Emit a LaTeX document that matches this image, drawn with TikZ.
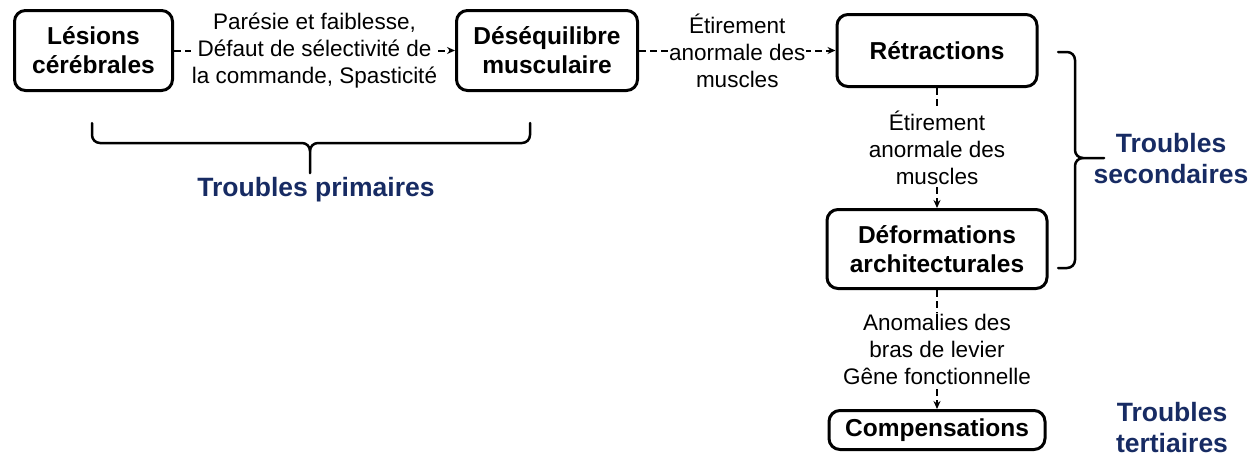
\documentclass[tikz,border=0pt]{standalone}
\usepackage{fontspec}
\setmainfont{Liberation Sans}
\usetikzlibrary{arrows.meta}
\definecolor{navy}{RGB}{23,43,99}
\begin{document}
\begin{tikzpicture}[x=1pt,y=-1pt,
  box/.style={draw=black, line width=3pt, rounded corners=11pt, align=center,
    font=\bfseries\fontsize{24.5}{29}\selectfont, inner sep=0pt},
  link/.style={line width=2pt, dash pattern=on 7pt off 4pt,
    -{Stealth[length=8pt,width=7pt]}},
  lbl/.style={fill=white, inner sep=1pt, align=center,
    font=\fontsize{22.5}{27}\selectfont},
  group/.style={text=navy, align=center, font=\bfseries\fontsize{26.5}{31}\selectfont},
  brace/.style={line width=2.5pt, line cap=round}]
\useasboundingbox (0,0) rectangle (1260,456);

% boxes
\node[box, minimum width=158pt, minimum height=80pt] (lesions) at (93.5,50.5) {Lésions\\cérébrales};
\node[box, minimum width=181pt, minimum height=80pt] (deseq) at (547,50.5) {Déséquilibre\\musculaire};
\node[box, minimum width=200pt, minimum height=72pt] (retr) at (937,50.5) {Rétractions};
\node[box, minimum width=220pt, minimum height=79pt] (deform) at (937,249) {Déformations\\architecturales};
\node[box, minimum width=216pt, minimum height=39pt] (comp) at (937,430) {Compensations};

% connectors with their labels
\draw[link] (lesions) -- node[lbl] {Parésie et faiblesse,\\Défaut de sélectivité de\\la commande, Spasticité} (deseq);
\draw[link] (deseq) -- node[lbl] {Étirement\\anormale des\\muscles} (retr);
\draw[link] (retr) -- node[lbl] {Étirement\\anormale des\\muscles} (deform);
\draw[link] (deform) -- node[lbl] {Anomalies des\\bras de levier\\Gêne fonctionnelle} (comp);

% brace under the primary disorders
\draw[brace] (92,123) -- (92,135) to[out=-90,in=180] (100,143) -- (302,143)
  to[out=0,in=90] (310,151) -- (310,173);
\draw[brace] (310,151) to[out=90,in=180] (318,143) -- (522,143)
  to[out=0,in=-90] (530,135) -- (530,123);
\node[group] (prim) at (316,190) {Troubles primaires};

% brace beside the secondary disorders
\draw[brace] (1058,52) -- (1067,52) to[out=0,in=90] (1075,60) -- (1075,150)
  to[out=-90,in=180] (1083,158) -- (1104,158);
\draw[brace] (1083,158) to[out=180,in=90] (1075,166) -- (1075,260)
  to[out=-90,in=0] (1067,268) -- (1058,268);
\node[group] (sec) at (1171,159) {Troubles\\secondaires};

\node[group] (tert) at (1172,428) {Troubles\\tertiaires};
\end{tikzpicture}
\end{document}
